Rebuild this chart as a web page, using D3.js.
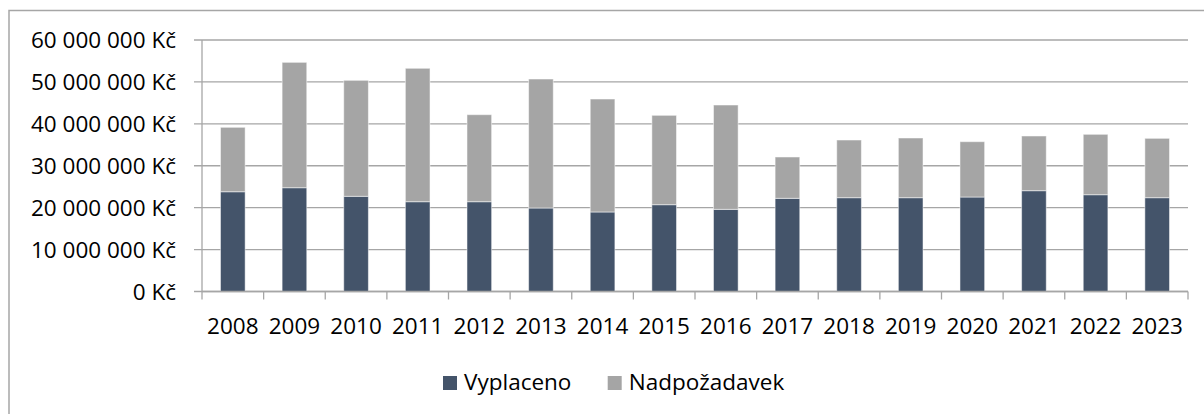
<!DOCTYPE html>
<html><head><meta charset="utf-8">
<script src="https://cdn.jsdelivr.net/npm/d3@7"></script>
<style>body{margin:0;background:#fff}svg{display:block}text{font-family:"Open Sans",sans-serif;fill:#000}</style>
</head><body><svg id="c" width="1204" height="414"></svg>
<script>
const years = ["2008","2009","2010","2011","2012","2013","2014","2015","2016","2017","2018","2019","2020","2021","2022","2023"];
const vyplaceno = [23.8,24.76,22.71,21.42,21.42,19.92,18.97,20.71,19.6,22.23,22.38,22.38,22.54,24.05,23.09,22.38].map(v=>v*1e6);
const nadpozadavek = [15.37,29.91,27.67,31.83,20.76,30.77,26.95,21.32,24.89,9.86,13.76,14.24,13.2,13.05,14.41,14.16].map(v=>v*1e6);
const yTicks = [0,10e6,20e6,30e6,40e6,50e6,60e6];
const seriesNames = ["Vyplaceno","Nadpožadavek"];
const colors = ["#44546A","#A5A5A5"];

const svg = d3.select("#c");
const L=202, R=1188, T=40, B=291.5;
svg.append("rect").attr("x",9).attr("y",10.5).attr("width",1300).attr("height",500)
  .attr("fill","none").attr("stroke","#a6a6a6").attr("stroke-width",1.5);

const x = d3.scaleBand().domain(years).range([L,R]).paddingInner(0.6).paddingOuter(0.3);
const y = d3.scaleLinear().domain([0,60e6]).range([B,T]);
const fmt = v => d3.format(",")(v).replace(/,/g," ") + " Kč";

// gridlines
svg.append("g").selectAll("line").data(yTicks).join("line")
  .attr("x1",L-8).attr("x2",R).attr("y1",d=>y(d)).attr("y2",d=>y(d))
  .attr("stroke","#a6a6a6").attr("stroke-width",1.3);
// y labels
svg.append("g").selectAll("text").data(yTicks).join("text")
  .attr("x",176).attr("y",d=>y(d)).attr("dy","0.36em").attr("text-anchor","end")
  .style("font-size","22.5px").text(fmt);

// bars
const stack = d3.stack().keys([0,1]).value((d,k)=>k===0?vyplaceno[d]:nadpozadavek[d]);
const layers = stack(d3.range(years.length));
svg.append("g").selectAll("g").data(layers).join("g").attr("fill",(d,i)=>colors[i])
  .selectAll("rect").data(d=>d).join("rect")
  .attr("x",(d,i)=>x(years[i])).attr("width",x.bandwidth())
  .attr("y",d=>y(d[1])).attr("height",d=>y(d[0])-y(d[1]))
  .attr("stroke","rgba(255,255,255,0.5)").attr("stroke-width",1);

// axes lines
svg.append("line").attr("x1",L).attr("x2",L).attr("y1",T).attr("y2",B).attr("stroke","#a6a6a6").attr("stroke-width",1.3);
svg.append("line").attr("x1",L).attr("x2",R).attr("y1",B).attr("y2",B).attr("stroke","#a6a6a6").attr("stroke-width",1.3);
const step = x.step();
const tickX = d3.range(years.length+1).map(i=>L+i*(R-L)/years.length);
svg.append("g").selectAll("line").data(tickX).join("line")
  .attr("x1",d=>d).attr("x2",d=>d).attr("y1",B).attr("y2",B+8).attr("stroke","#a6a6a6").attr("stroke-width",1.3);
svg.append("g").selectAll("text").data(years).join("text")
  .attr("x",d=>x(d)+x.bandwidth()/2).attr("y",334).attr("text-anchor","middle")
  .style("font-size","22.5px").text(d=>d);

// legend
const lg = svg.append("g");
const lx = [443,607.7];
seriesNames.forEach((n,i)=>{
  lg.append("rect").attr("x",lx[i]).attr("y",376).attr("width",14).attr("height",14).attr("fill",colors[i]);
  lg.append("text").attr("x",lx[i]+21).attr("y",390).style("font-size","22.5px").text(n);
});
</script></body></html>
